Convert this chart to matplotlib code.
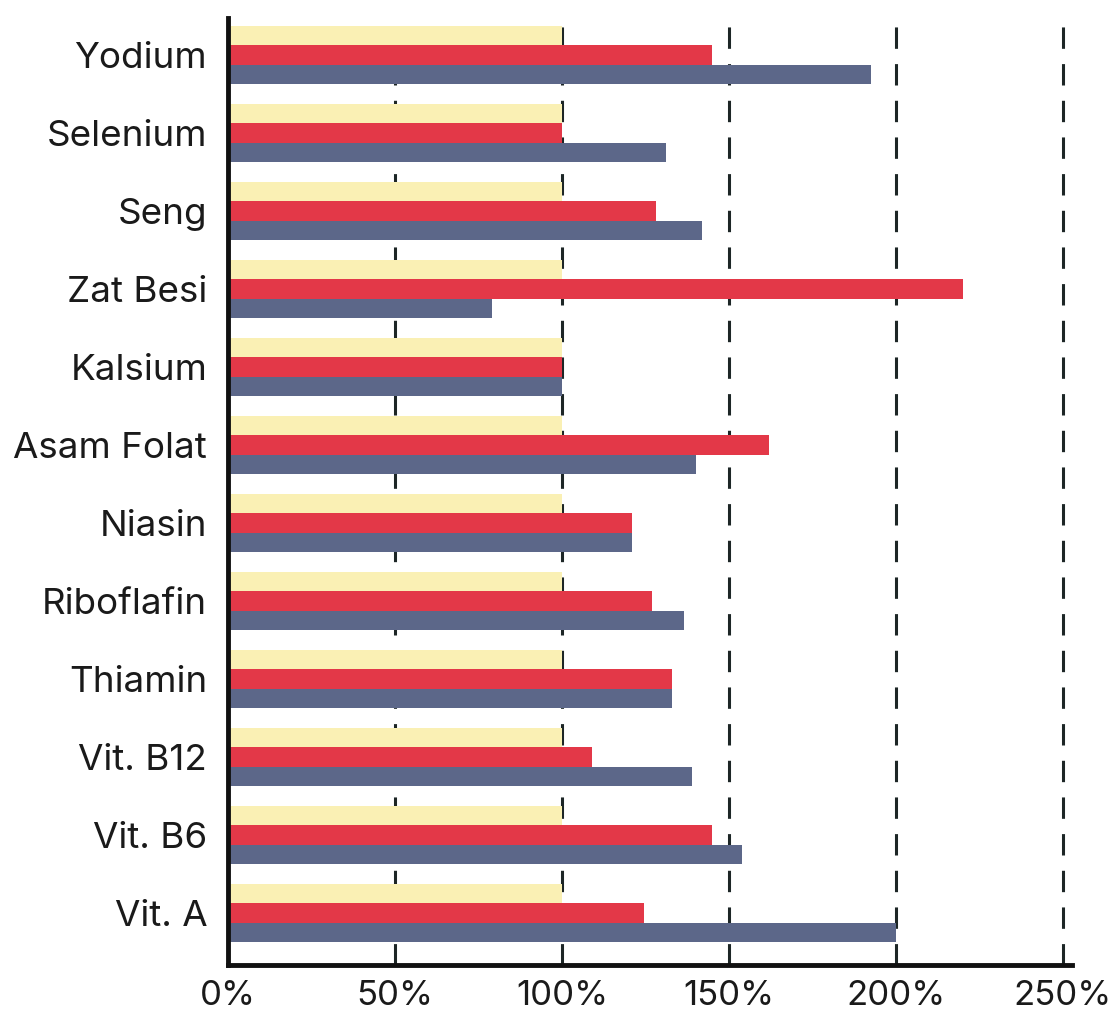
import numpy as np
import matplotlib.pyplot as plt

plt.rcParams['font.family'] = ['Inter', 'DejaVu Sans']

nutrients = ["Vit. A", "Vit. B6", "Vit. B12", "Thiamin", "Riboflafin", "Niasin",
             "Asam Folat", "Kalsium", "Zat Besi", "Seng", "Selenium", "Yodium"]
reference = [100, 100, 100, 100, 100, 100, 100, 100, 100, 100, 100, 100]
series_red = [124.5, 145, 109, 133, 127, 121, 162, 100, 220, 128, 100, 145]
series_blue = [200, 154, 139, 133, 136.5, 121, 140, 100, 79, 142, 131, 192.5]
xticks = [0, 50, 100, 150, 200, 250]

fig = plt.figure(figsize=(11.14, 10.11), dpi=100)
ax = fig.add_axes([0.2047, 0.0455, 0.7576, 0.9425])

y = np.arange(len(nutrients))
h = 0.25
ax.barh(y + h, reference, height=h, color="#FAF0B4", zorder=2)
ax.barh(y, series_red, height=h, color="#E33848", zorder=2)
ax.barh(y - h, series_blue, height=h, color="#5C6789", zorder=2)

ax.set_xlim(0, 252.7)
ax.set_ylim(-0.667, 11.55)
ax.set_yticks(y)
ax.set_yticklabels(nutrients, fontsize=26.5)
ax.set_xticks(xticks)
ax.set_xticklabels([f"{t}%" for t in xticks], fontsize=25)
ax.tick_params(axis="both", length=0, colors="#1a1a1a")
ax.tick_params(axis="y", pad=15)
ax.tick_params(axis="x", pad=11)

# dashed vertical guides behind the bars
ax.grid(axis="x", color="#1d2626", linewidth=2.2, linestyle=(0, (7, 5)), zorder=1)
ax.set_axisbelow(True)

for s in ["top", "right"]:
    ax.spines[s].set_visible(False)
for s in ["left", "bottom"]:
    ax.spines[s].set_linewidth(3.5)
    ax.spines[s].set_color("#111111")
ax.spines["left"].set_bounds(-0.667, 11.48)

fig.savefig("out.png", dpi=100, facecolor="white")
